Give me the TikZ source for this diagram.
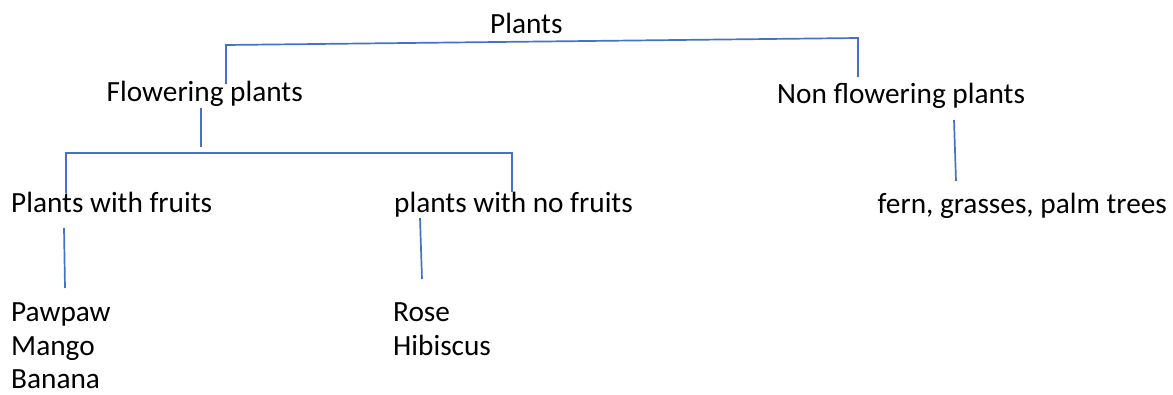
\documentclass[tikz,border=0pt]{standalone}
\usepackage{fontspec}
\setmainfont{Carlito}
\begin{document}
\begin{tikzpicture}[x=1pt,y=-1pt,
  lbl/.style={inner sep=0pt,font=\fontsize{29.3}{34}\selectfont,text=black},
  conn/.style={draw=linkblue,line width=1.7pt}]
\definecolor{linkblue}{HTML}{4472C4}
\useasboundingbox[fill=white] (0,0) rectangle (1173,394);
% texts
\node[lbl,anchor=base west] (plants) at (490,33) {Plants};
\node[lbl,anchor=base east] (flow) at (303,101) {Flowering plants};
\node[lbl,anchor=base west] (nonflow) at (777,103) {Non flowering plants};
\node[lbl,anchor=base west] (fruits) at (11,212) {Plants with fruits};
\node[lbl,anchor=base west] (nofruits) at (394,212) {plants with no fruits};
\node[lbl,anchor=base east] (fern) at (1167,213) {fern, grasses, palm trees};
\node[lbl,anchor=base west] (pawpaw) at (11,321) {Pawpaw};
\node[lbl,anchor=base west] (mango) at (11,355) {Mango};
\node[lbl,anchor=base west] (banana) at (11,388) {Banana};
\node[lbl,anchor=base west] (rose) at (393,321) {Rose};
\node[lbl,anchor=base west] (hibiscus) at (393,355) {Hibiscus};
% connector end points
\coordinate (b1l) at (226,45);
\coordinate (b1r) at (858,38);
\coordinate (f1) at (226,84);
\coordinate (n1) at (858,77);
\coordinate (fd1) at (201,108);
\coordinate (fd2) at (201,147);
\coordinate (b2l) at (66,153);
\coordinate (b2r) at (512,153);
\coordinate (p1) at (66,193);
\coordinate (q1) at (512,192);
\coordinate (pa) at (64,228);
\coordinate (pb) at (65,288);
\coordinate (ra) at (420,218);
\coordinate (rb) at (422,279);
\coordinate (fa) at (954,120);
\coordinate (fb) at (956,181);
% connectors
\draw[conn] (f1) -- (b1l) -- (b1r) -- (n1);
\draw[conn] (fd1) -- (fd2);
\draw[conn] (p1) -- (b2l) -- (b2r) -- (q1);
\draw[conn] (pa) -- (pb);
\draw[conn] (ra) -- (rb);
\draw[conn] (fa) -- (fb);
\end{tikzpicture}
\end{document}
